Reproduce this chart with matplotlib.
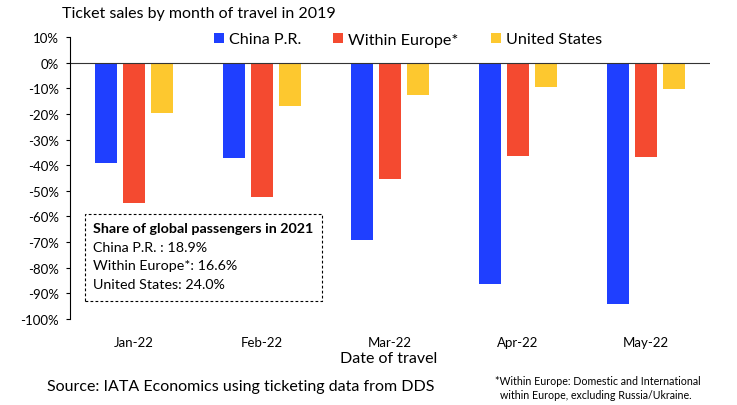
import matplotlib
matplotlib.use("Agg")
import matplotlib.pyplot as plt
import numpy as np

plt.rcParams["font.family"] = ["Lato", "DejaVu Sans"]

months = ["Jan-22", "Feb-22", "Mar-22", "Apr-22", "May-22"]
china = [-39.2, -37.2, -69.3, -86.4, -94.2]
europe = [-54.7, -52.5, -45.5, -36.6, -36.8]
us = [-19.8, -16.8, -12.7, -9.6, -10.1]
series_names = ["China P.R.", "Within Europe*", "United States"]
colors = ["#1f3fff", "#f44a30", "#fdc82f"]
yticks = list(range(-100, 11, 10))

W, H = 737, 406
fig = plt.figure(figsize=(W / 100, H / 100), dpi=100)
ax = fig.add_axes([70 / W, 1 - 320 / H, 640 / W, (320 - 38) / H])

x = np.arange(len(months))
bar_w = 0.174
gap = 0.22
for off, vals, c, name in zip([-gap, 0, gap], [china, europe, us], colors, series_names):
    ax.bar(x + off, vals, bar_w, color=c, label=name)

ax.set_xlim(-0.5, 4.5)
ax.set_ylim(-100, 10)
ax.set_yticks(yticks)
ax.set_yticklabels([f"{v}%" for v in yticks], fontsize=9.5)
ax.set_xticks(x)
ax.set_xticklabels(months, fontsize=9.5)
ax.tick_params(axis="x", length=0, pad=12)
ax.tick_params(axis="y", length=3, pad=5, width=0.8)
for s in ["top", "right", "bottom"]:
    ax.spines[s].set_visible(False)
ax.axhline(0, color="#333333", lw=0.8)
ax.spines["left"].set_linewidth(0.8)

ax.legend(loc="center left", bbox_to_anchor=(214 / W, 1 - 40.5 / H), bbox_transform=fig.transFigure,
          ncol=3, frameon=False, fontsize=11.6, handlelength=0.62, handleheight=0.62,
          columnspacing=2.0, handletextpad=0.31, borderpad=0, borderaxespad=0)

fig.text(62 / W, 1 - 14 / H, "Ticket sales by month of travel in 2019", fontsize=11.5, va="center")
fig.text(389 / W, 1 - 359 / H, "Date of travel", fontsize=11.5, ha="center", va="center")
fig.text(47 / W, 1 - 387 / H, "Source: IATA Economics using ticketing data from DDS", fontsize=11.5, va="center")
fig.text(495 / W, 1 - 382 / H, "*Within Europe: Domestic and International", fontsize=7.65, va="center")
fig.text(500 / W, 1 - 396 / H, "within Europe, excluding Russia/Ukraine.", fontsize=7.65, va="center")

box = plt.Rectangle((85 / W, 1 - 301.5 / H), 237 / W, 86.5 / H, transform=fig.transFigure,
                    fill=True, fc="white", ec="black", ls=(0, (2.5, 2)), lw=0.8, zorder=5)
fig.add_artist(box)
fig.text(93 / W, 1 - 229.5 / H, "Share of global passengers in 2021", fontsize=10.3, fontweight="bold", va="center", zorder=6)
fig.text(93 / W, 1 - 248.5 / H, "China P.R. : 18.9%", fontsize=10.3, va="center", zorder=6)
fig.text(93 / W, 1 - 266.5 / H, "Within Europe*: 16.6%", fontsize=10.3, va="center", zorder=6)
fig.text(93 / W, 1 - 285 / H, "United States: 24.0%", fontsize=10.3, va="center", zorder=6)

fig.savefig("out.png", dpi=100)
